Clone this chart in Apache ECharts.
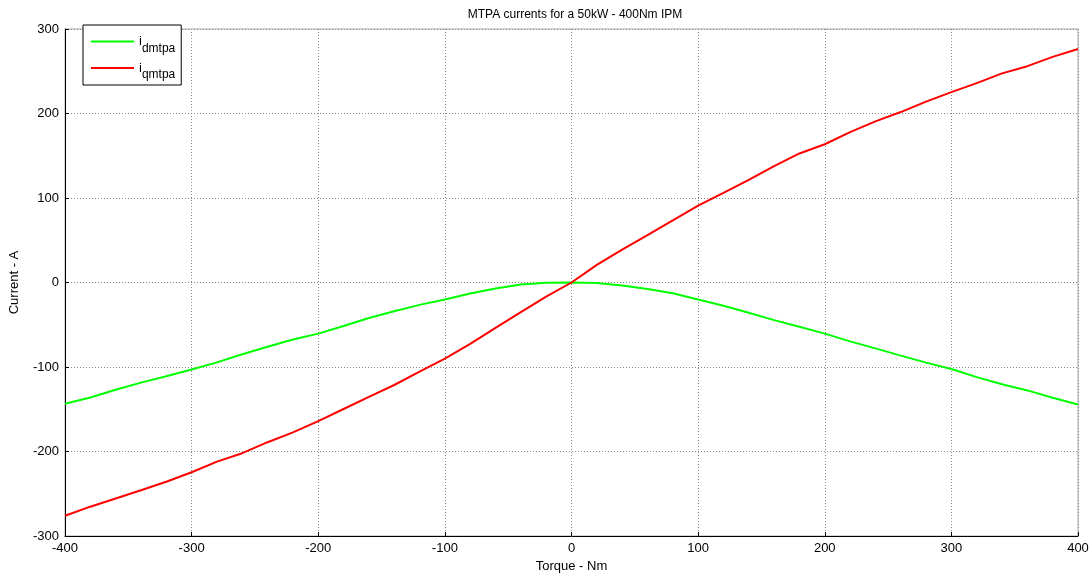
<!DOCTYPE html>
<html>
<head>
<meta charset="utf-8">
<script src="https://cdn.jsdelivr.net/npm/echarts@6/dist/echarts.min.js"></script>
<style>html,body{margin:0;padding:0;background:#fff;}#c{width:1092px;height:578px;}</style>
</head>
<body>
<div id="c"></div>
<script>
const torque = [-400,-380,-360,-340,-320,-300,-280,-260,-240,-220,-200,-180,-160,-140,-120,-100,-80,-60,-40,-20,0,20,40,60,80,100,120,140,160,180,200,220,240,260,280,300,320,340,360,380,400];
const idMtpa = [-143.5,-136,-127,-118.5,-111,-103,-94.5,-85,-76,-67.5,-60.5,-51.5,-42,-34,-26.5,-20.2,-13,-7,-2.5,-0.3,0,-0.5,-3.5,-7.7,-12.8,-20.2,-27.5,-35.7,-44.5,-52.3,-60.5,-69.7,-78,-86.5,-94.8,-102.4,-112,-120.5,-127.7,-136.3,-144.3];
const iqMtpa = [-276,-265.3,-255.6,-245.8,-235.8,-224.5,-212,-202,-189,-177.3,-164,-149.7,-135.3,-121.3,-105.4,-90,-72.7,-53.7,-35,-16.6,0,20.8,39,56,73.5,91,106,121.4,137.8,152.7,163.6,178,190.7,201.7,214,225.3,236,247.5,256,267,276.4];
const xTicks = [-400,-300,-200,-100,0,100,200,300,400];
const yTicks = [-300,-200,-100,0,100,200,300];
const seriesNames = ['idmtpa','iqmtpa'];

const font = 'Liberation Sans, Arial, sans-serif';
const chart = echarts.init(document.getElementById('c'), null, {renderer:'canvas'});
const axisCommon = {
  axisLine:{show:true,onZero:false,lineStyle:{color:'#000',width:1}},
  axisTick:{show:true,inside:true,length:4,lineStyle:{color:'#000'}},
  splitLine:{show:true,lineStyle:{color:'#888',type:[1,2],width:1}},
  axisLabel:{color:'#000',fontFamily:font,fontSize:13},
  nameTextStyle:{color:'#000',fontFamily:font,fontSize:13}
};
chart.setOption({
  animation:false,
  backgroundColor:'#fff',
  title:{text:'MTPA currents for a 50kW - 400Nm IPM',left:570,textAlign:'center',top:4,
    textStyle:{color:'#000',fontFamily:font,fontSize:12,fontWeight:'normal'}},
  grid:{left:64,right:14,top:29,bottom:42,show:true,borderColor:'#aaa',borderWidth:1},
  legend:{
    orient:'vertical',left:83,top:25,
    backgroundColor:'#fff',borderColor:'#000',borderWidth:1,
    padding:[10,6,4,8],itemWidth:43,itemHeight:2,itemGap:7,
    data:seriesNames.map(n=>({name:n,icon:'rect'})),
    formatter:function(n){return '{a|i}{b|'+n.slice(1)+'}';},
    textStyle:{color:'#000',fontFamily:font,
      rich:{a:{fontSize:13,fontFamily:font,color:'#000',lineHeight:26,verticalAlign:'middle'},
            b:{fontSize:12,fontFamily:font,color:'#000',lineHeight:26,verticalAlign:'bottom'}}}
  },
  xAxis:Object.assign({},axisCommon,{type:'value',min:-400,max:400,interval:100,
    name:'Torque - Nm',nameLocation:'middle',nameGap:24,
    axisLabel:Object.assign({},axisCommon.axisLabel,{margin:6,customValues:xTicks})}),
  yAxis:Object.assign({},axisCommon,{type:'value',min:-300,max:300,interval:100,
    name:'Current - A',nameLocation:'middle',nameGap:44,
    axisLabel:Object.assign({},axisCommon.axisLabel,{margin:6,customValues:yTicks})}),
  series:[
    {name:seriesNames[0],type:'line',data:torque.map((t,i)=>[t,idMtpa[i]]),showSymbol:false,
      lineStyle:{color:'#00ff00',width:2},itemStyle:{color:'#00ff00'}},
    {name:seriesNames[1],type:'line',data:torque.map((t,i)=>[t,iqMtpa[i]]),showSymbol:false,
      lineStyle:{color:'#ff0000',width:2},itemStyle:{color:'#ff0000'}}
  ]
});
</script>
</body>
</html>
